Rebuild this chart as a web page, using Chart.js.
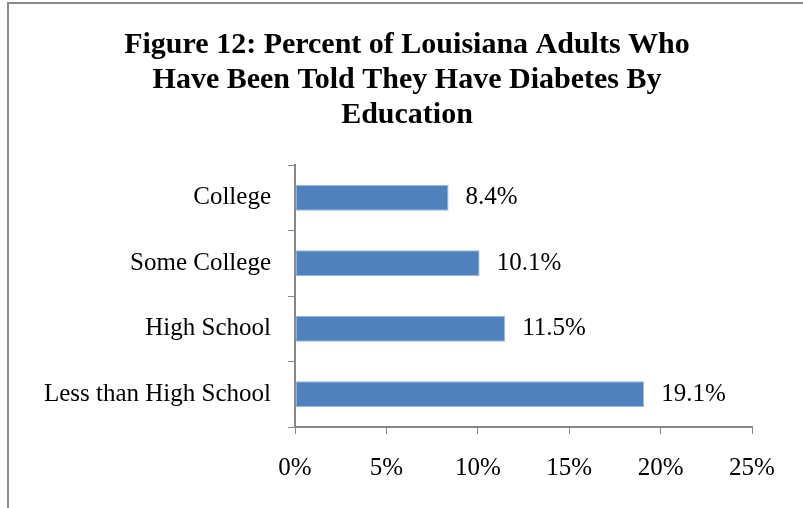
<!DOCTYPE html>
<html>
<head>
<meta charset="utf-8">
<script src="https://cdn.jsdelivr.net/npm/chart.js@4/dist/chart.umd.min.js"></script>
<style>
  html, body { margin: 0; padding: 0; background: #fff; }
  #wrap { width: 803px; height: 508px; }
</style>
</head>
<body>
<div id="wrap"><canvas id="canvas" width="803" height="508"></canvas></div>
<script>
const titleLines = ['Figure 12: Percent of Louisiana Adults Who', 'Have Been Told They Have Diabetes By', 'Education'];
const categories = ['College', 'Some College', 'High School', 'Less than High School'];
const diabetesPct = [8.4, 10.1, 11.5, 19.1];
const xTicks = [0, 5, 10, 15, 20, 25];

const serif = '"Liberation Serif", "DejaVu Serif", serif';
const axisGray = '#868686';

// frame around the figure + the title lines
const framePlugin = {
    id: 'frame',
    beforeDraw(chart) {
        const ctx = chart.ctx;
        ctx.save();
        ctx.strokeStyle = '#8a8a8a';
        ctx.lineWidth = 2;
        ctx.strokeRect(8, 3, 900, 600);
        ctx.restore();
    },
    afterDraw(chart) {
        const ctx = chart.ctx;
        ctx.save();
        ctx.fillStyle = '#000';
        ctx.font = 'bold 30px ' + serif;
        ctx.textAlign = 'center';
        ctx.textBaseline = 'middle';
        titleLines.forEach((line, i) => ctx.fillText(line, 407, 45 + i * 35));
        ctx.restore();
    }
};

// value written after the end of each bar
const valueLabels = {
    id: 'valueLabels',
    afterDatasetsDraw(chart) {
        const ctx = chart.ctx;
        const meta = chart.getDatasetMeta(0);
        ctx.save();
        ctx.fillStyle = '#000';
        ctx.font = '25px ' + serif;
        ctx.textAlign = 'left';
        ctx.textBaseline = 'middle';
        meta.data.forEach((bar, i) => {
            ctx.fillText(diabetesPct[i].toFixed(1) + '%', bar.x + 17, bar.y);
        });
        ctx.restore();
    }
};

new Chart(document.getElementById('canvas'), {
    type: 'bar',
    data: {
        labels: categories,
        datasets: [{
            data: diabetesPct,
            backgroundColor: '#4F81BD',
            borderColor: '#9DB9DC',
            borderWidth: 1,
            borderSkipped: false,
            categoryPercentage: 1,
            barPercentage: 0.4
        }]
    },
    options: {
        indexAxis: 'y',
        responsive: false,
        animation: false,
        layout: { padding: { top: 165, right: 51, left: 0, bottom: 0 } },
        plugins: {
            legend: { display: false },
            title: { display: false },
            tooltip: { enabled: false }
        },
        scales: {
            x: {
                min: 0,
                max: 25,
                afterBuildTicks(scale) {
                    scale.ticks = xTicks.map(v => ({ value: v }));
                },
                afterFit(scale) { scale.height = 81; },
                ticks: {
                    callback: v => v + '%',
                    color: '#000',
                    font: { family: serif, size: 25 },
                    padding: 19,
                    maxRotation: 0
                },
                grid: {
                    drawOnChartArea: false,
                    drawTicks: true,
                    tickLength: 7,
                    color: axisGray
                },
                border: { color: axisGray, width: 2 }
            },
            y: {
                afterFit(scale) { scale.width = 295; },
                ticks: {
                    color: '#000',
                    font: { family: serif, size: 25 },
                    padding: 17
                },
                grid: {
                    offset: true,
                    drawOnChartArea: false,
                    drawTicks: true,
                    tickLength: 7,
                    color: axisGray
                },
                border: { color: axisGray, width: 2 }
            }
        }
    },
    plugins: [framePlugin, valueLabels]
});
</script>
</body>
</html>
